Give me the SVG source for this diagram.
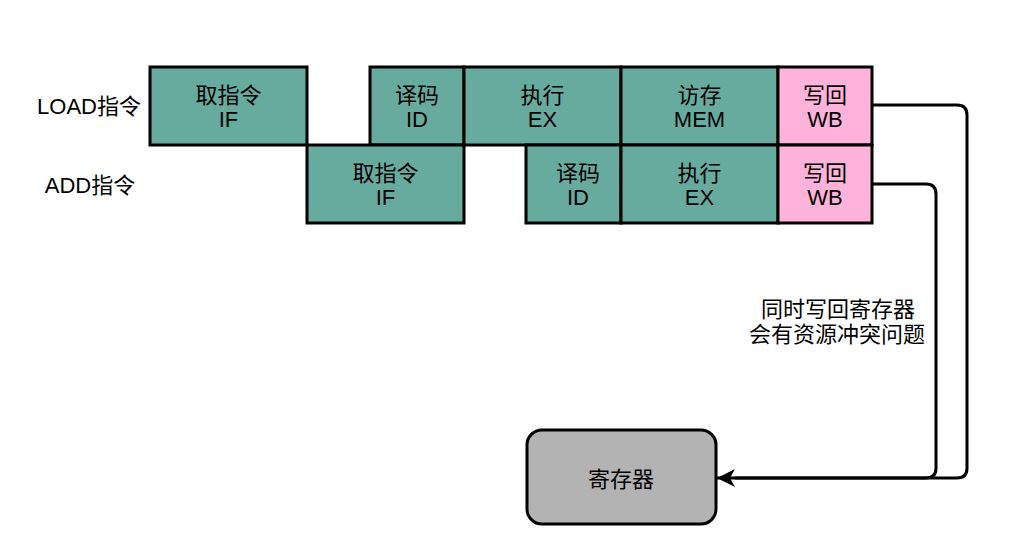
<svg xmlns="http://www.w3.org/2000/svg" width="1027" height="559" viewBox="0 0 1027 559">
<defs>
<style>
.t{font-family:"Liberation Sans","Noto Sans CJK SC",sans-serif;font-size:22px;fill:#000;text-anchor:middle}
.g{fill:#67ab9f;stroke:#000;stroke-width:3}
.p{fill:#ffb3da;stroke:#000;stroke-width:3}
.c{fill:none;stroke:#000;stroke-width:3}
</style>
<marker id="ah" viewBox="0 0 20 20" refX="19" refY="10" markerWidth="20" markerHeight="20" markerUnits="userSpaceOnUse" orient="auto">
<path d="M1,1 L19,10 L1,19 L6,10 Z" fill="#000"/>
</marker>
</defs>
<rect width="1027" height="559" fill="#fff"/>
<g id="labels">
<text class="t" x="89" y="114">LOAD指令</text>
<text class="t" x="90" y="193">ADD指令</text>
<text class="t" x="838" y="317">同时写回寄存器</text>
<text class="t" x="837" y="342">会有资源冲突问题</text>
</g>
<g id="connectors">
<path class="c" d="M872,105 H957 Q967,105 967,115 V468 Q967,478 957,478 H735"/>
<path class="c" d="M872,184 H926 Q936,184 936,194 V468 Q936,478 926,478 H717" marker-end="url(#ah)"/>
</g>
<g id="load-if"><rect class="g" x="150" y="67" width="157" height="78"/><text class="t" x="228.5" y="103">取指令</text><text class="t" x="228.5" y="127">IF</text></g>
<g id="load-id"><rect class="g" x="370" y="67" width="94" height="78"/><text class="t" x="417" y="103">译码</text><text class="t" x="417" y="127">ID</text></g>
<g id="load-ex"><rect class="g" x="464" y="67" width="157" height="78"/><text class="t" x="542.5" y="103">执行</text><text class="t" x="542.5" y="127">EX</text></g>
<g id="load-mem"><rect class="g" x="621" y="67" width="157" height="78"/><text class="t" x="699.5" y="103">访存</text><text class="t" x="699.5" y="127">MEM</text></g>
<g id="load-wb"><rect class="p" x="778" y="67" width="94" height="78"/><text class="t" x="825" y="103">写回</text><text class="t" x="825" y="127">WB</text></g>
<g id="add-if"><rect class="g" x="307" y="145" width="157" height="78"/><text class="t" x="385.5" y="181">取指令</text><text class="t" x="385.5" y="205">IF</text></g>
<g id="add-id"><rect class="g" x="526" y="145" width="95" height="78"/><text class="t" x="578" y="181">译码</text><text class="t" x="578" y="205">ID</text></g>
<g id="add-ex"><rect class="g" x="621" y="145" width="157" height="78"/><text class="t" x="699.5" y="181">执行</text><text class="t" x="699.5" y="205">EX</text></g>
<g id="add-wb"><rect class="p" x="778" y="145" width="94" height="78"/><text class="t" x="825" y="181">写回</text><text class="t" x="825" y="205">WB</text></g>
<g id="register"><rect x="527" y="430" width="189" height="94" rx="15" fill="#b3b3b3" stroke="#000" stroke-width="3"/><text class="t" x="621" y="487">寄存器</text></g>
</svg>
